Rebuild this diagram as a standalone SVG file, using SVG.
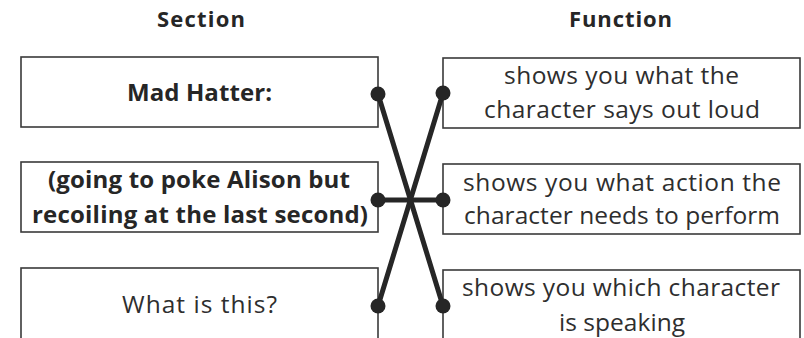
<svg xmlns="http://www.w3.org/2000/svg" width="804" height="338" viewBox="0 0 804 338">
<style>
.box{fill:#fff;stroke:#3a3a3a;stroke-width:1.6}
.t{font-family:"Open Sans",Lato,"Liberation Sans",sans-serif;font-size:24.5px;fill:#2e2e2e;text-anchor:middle}
.b{font-weight:bold;font-size:24px;fill:#262626}
.h{font-family:"Open Sans",Lato,"Liberation Sans",sans-serif;font-size:22px;font-weight:bold;fill:#262626;text-anchor:middle}
.c{stroke:#262626;stroke-width:5;stroke-linecap:round;fill:none}
.d{fill:#262626}
</style>
<rect width="804" height="338" fill="#fff"/>
<text class="h" x="201" y="27" textLength="88">Section</text>
<text class="h" x="620.5" y="27" textLength="103">Function</text>
<g id="s1"><rect class="box" x="21" y="57" width="357" height="70"/><text class="t b" x="199.5" y="101" textLength="145">Mad Hatter:</text></g>
<g id="s2"><rect class="box" x="21" y="162" width="357" height="70"/><text class="t b" x="199" y="188" textLength="302">(going to poke Alison but</text><text class="t b" x="200" y="223" textLength="336">recoiling at the last second)</text></g>
<g id="s3"><rect class="box" x="21" y="268" width="357" height="80"/><text class="t" x="199.5" y="313" textLength="155">What is this?</text></g>
<g id="f1"><rect class="box" x="443" y="58" width="357" height="70"/><text class="t" x="621.5" y="84" textLength="235">shows you what the</text><text class="t" x="622" y="118" textLength="276">character says out loud</text></g>
<g id="f2"><rect class="box" x="443" y="164" width="357" height="70"/><text class="t" x="622" y="191" textLength="318">shows you what action the</text><text class="t" x="622" y="224" textLength="316">character needs to perform</text></g>
<g id="f3"><rect class="box" x="443" y="270" width="357" height="80"/><text class="t" x="621" y="296" textLength="318">shows you which character</text><text class="t" x="622" y="331" textLength="126">is speaking</text></g>
<g id="connectors">
<line class="c" x1="378" y1="94" x2="443" y2="306"/>
<line class="c" x1="378" y1="306" x2="443" y2="93"/>
<line class="c" x1="378" y1="200" x2="443" y2="200"/>
<circle class="d" cx="378" cy="94" r="7.5"/>
<circle class="d" cx="443" cy="93" r="7.5"/>
<circle class="d" cx="378" cy="200" r="7.5"/>
<circle class="d" cx="443" cy="200" r="7.5"/>
<circle class="d" cx="378" cy="306" r="7.5"/>
<circle class="d" cx="443" cy="306" r="7.5"/>
</g>
</svg>
